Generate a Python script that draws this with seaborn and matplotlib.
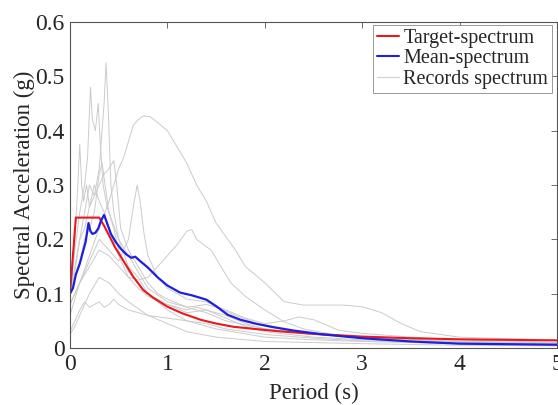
import matplotlib
matplotlib.use("Agg")
import matplotlib.pyplot as plt
from matplotlib.lines import Line2D
import numpy as np
import pandas as pd
import seaborn as sns

# target spectrum
target_T = [0, 0.06, 0.30, 0.35, 0.41, 0.46, 0.55, 0.65, 0.75, 0.85, 1.0, 1.15, 1.34, 1.5,
            1.68, 1.9, 2.13, 2.5, 3.0, 3.5, 4.0, 4.5, 5.0]
target_Sa = [0.10, 0.24, 0.24, 0.225, 0.204, 0.186, 0.16, 0.131, 0.107, 0.093, 0.076, 0.064,
             0.052, 0.045, 0.039, 0.035, 0.031, 0.026, 0.021, 0.018, 0.016, 0.015, 0.014]

# mean spectrum
mean_T = [0, 0.03, 0.06, 0.1, 0.13, 0.16, 0.19, 0.21, 0.23, 0.26, 0.29, 0.32, 0.35, 0.38, 0.42,
          0.47, 0.52, 0.58, 0.63, 0.67, 0.72, 0.8, 0.9, 1.0, 1.13, 1.25, 1.4, 1.5, 1.62, 1.75,
          1.9, 2.1, 2.3, 2.6, 3.0, 3.5, 4.0, 4.5, 5.0]
mean_Sa = [0.10, 0.11, 0.135, 0.155, 0.175, 0.195, 0.23, 0.215, 0.21, 0.212, 0.22, 0.235, 0.245,
           0.23, 0.21, 0.195, 0.183, 0.172, 0.166, 0.168, 0.16, 0.148, 0.13, 0.115, 0.102, 0.097,
           0.089, 0.077, 0.061, 0.052, 0.045, 0.038, 0.032, 0.025, 0.018, 0.012, 0.008, 0.007,
           0.006]

# individual records
rec_T = [
    [0, 0.1, 0.2, 0.3, 0.4, 0.45, 0.5, 0.55, 0.6, 0.65, 0.7, 0.75, 0.82, 0.9, 1.0, 1.1, 1.2, 1.3,
     1.4, 1.5, 1.6, 1.7, 1.8, 2.0, 2.2, 2.4, 2.6, 2.8, 3.0, 3.2, 3.4, 3.6, 4.0, 4.5, 5.0],
    [0, 0.1, 0.2, 0.3, 0.4, 0.5, 0.6, 0.7, 0.8, 0.9, 1.0, 1.1, 1.2, 1.25, 1.3, 1.35, 1.45, 1.55,
     1.65, 1.8, 2.0, 2.2, 2.4, 2.7, 3.0, 3.5, 4.0, 5.0],
    [0, 0.05, 0.1, 0.15, 0.2, 0.25, 0.3, 0.35, 0.37, 0.39, 0.42, 0.45, 0.5, 0.6, 0.7, 0.8, 1.0,
     1.2, 1.5, 2.0, 2.5, 3.0, 4.0, 5.0],
    [0, 0.05, 0.1, 0.15, 0.18, 0.21, 0.23, 0.26, 0.29, 0.31, 0.34, 0.38, 0.45, 0.5, 0.6, 0.7, 0.8,
     1.0, 1.2, 1.4, 1.6, 1.8, 2.0, 2.5, 3.0, 4.0, 5.0],
    [0, 0.05, 0.08, 0.1, 0.12, 0.14, 0.17, 0.2, 0.25, 0.3, 0.35, 0.4, 0.45, 0.48, 0.52, 0.6, 0.7,
     0.8, 0.9, 1.0, 1.2, 1.4, 1.6, 2.0, 2.5, 3.0, 4.0, 5.0],
    [0, 0.1, 0.2, 0.3, 0.4, 0.5, 0.6, 0.65, 0.69, 0.72, 0.76, 0.8, 0.9, 1.0, 1.2, 1.4, 1.6, 1.8,
     2.0, 2.2, 2.35, 2.5, 2.6, 2.75, 3.0, 3.5, 4.0, 5.0],
    [0, 0.05, 0.1, 0.15, 0.2, 0.25, 0.3, 0.35, 0.4, 0.45, 0.5, 0.6, 0.7, 0.8, 1.0, 1.2, 1.4, 1.6,
     2.0, 2.5, 3.0, 4.0, 5.0],
    [0, 0.05, 0.1, 0.2, 0.3, 0.4, 0.5, 0.6, 0.8, 1.0, 1.2, 1.5, 2.0, 3.0, 4.0, 5.0],
    [0, 0.05, 0.1, 0.15, 0.2, 0.25, 0.3, 0.35, 0.4, 0.5, 0.6, 0.7, 0.8, 1.0, 1.2, 1.3, 1.4, 1.6,
     1.8, 2.0, 2.5, 3.0, 4.0, 5.0],
    [0, 0.05, 0.1, 0.15, 0.2, 0.25, 0.3, 0.33, 0.36, 0.4, 0.5, 0.6, 0.7, 0.8, 1.0, 1.2, 1.4, 1.5,
     1.7, 2.0, 2.3, 2.6, 3.0, 4.0, 5.0],
]
rec_Sa = [
    [0.06, 0.12, 0.17, 0.22, 0.27, 0.30, 0.33, 0.35, 0.38, 0.41, 0.42, 0.427, 0.426, 0.415, 0.40,
     0.37, 0.34, 0.30, 0.27, 0.23, 0.205, 0.18, 0.15, 0.12, 0.085, 0.079, 0.079, 0.079, 0.076,
     0.065, 0.045, 0.03, 0.02, 0.017, 0.015],
    [0.08, 0.12, 0.15, 0.18, 0.17, 0.15, 0.13, 0.125, 0.13, 0.15, 0.17, 0.19, 0.215, 0.218, 0.20,
     0.193, 0.18, 0.15, 0.12, 0.095, 0.07, 0.048, 0.035, 0.025, 0.02, 0.013, 0.01, 0.007],
    [0.10, 0.15, 0.20, 0.25, 0.30, 0.28, 0.33, 0.45, 0.525, 0.45, 0.30, 0.25, 0.20, 0.15, 0.13,
     0.10, 0.07, 0.05, 0.035, 0.02, 0.015, 0.012, 0.008, 0.006],
    [0.10, 0.18, 0.25, 0.30, 0.35, 0.48, 0.42, 0.40, 0.45, 0.38, 0.30, 0.26, 0.22, 0.18, 0.14,
     0.12, 0.10, 0.08, 0.065, 0.07, 0.06, 0.045, 0.035, 0.025, 0.018, 0.012, 0.008],
    [0.09, 0.20, 0.30, 0.375, 0.30, 0.27, 0.30, 0.26, 0.28, 0.30, 0.32, 0.33, 0.345, 0.30, 0.22,
     0.18, 0.15, 0.12, 0.10, 0.09, 0.075, 0.065, 0.05, 0.035, 0.025, 0.02, 0.012, 0.01],
    [0.08, 0.12, 0.16, 0.20, 0.18, 0.16, 0.20, 0.26, 0.30, 0.27, 0.21, 0.17, 0.13, 0.11, 0.09,
     0.085, 0.07, 0.055, 0.045, 0.05, 0.057, 0.052, 0.045, 0.033, 0.027, 0.02, 0.015, 0.01],
    [0.03, 0.05, 0.07, 0.085, 0.075, 0.08, 0.085, 0.075, 0.08, 0.09, 0.08, 0.07, 0.065, 0.06,
     0.055, 0.05, 0.045, 0.035, 0.025, 0.018, 0.013, 0.008, 0.006],
    [0.025, 0.04, 0.06, 0.10, 0.13, 0.12, 0.10, 0.085, 0.06, 0.045, 0.03, 0.02, 0.012, 0.008,
     0.005, 0.004],
    [0.10, 0.14, 0.20, 0.22, 0.26, 0.30, 0.27, 0.25, 0.22, 0.17, 0.13, 0.11, 0.095, 0.08, 0.07,
     0.075, 0.07, 0.055, 0.04, 0.03, 0.02, 0.015, 0.01, 0.008],
    [0.10, 0.13, 0.16, 0.20, 0.22, 0.25, 0.32, 0.34, 0.30, 0.25, 0.20, 0.17, 0.14, 0.11, 0.085,
     0.075, 0.08, 0.075, 0.06, 0.04, 0.03, 0.026, 0.02, 0.012, 0.009],
]

rows = []
for i, (tt, ss) in enumerate(zip(rec_T, rec_Sa)):
    for t, s in zip(tt, ss):
        rows.append({"rec": i, "T": t, "Sa": s})
records = pd.DataFrame(rows)

sns.set_style("white")
plt.rcParams["font.family"] = ["Liberation Serif", "DejaVu Serif"]
plt.rcParams["xtick.direction"] = "in"
plt.rcParams["ytick.direction"] = "in"

fig = plt.figure(figsize=(5.58, 4.05), dpi=100)
ax = fig.add_axes([70 / 558, 1 - 348 / 405, 487 / 558, 326 / 405])

sns.lineplot(data=records, x="T", y="Sa", units="rec", estimator=None, color="#cbcbcb",
             lw=0.7, ax=ax, legend=False)
sns.lineplot(x=target_T, y=target_Sa, color="#e8191c", lw=1.5, ax=ax)
sns.lineplot(x=mean_T, y=mean_Sa, color="#1f1fe0", lw=1.6, ax=ax)

ax.set_xlim(0, 5)
ax.set_ylim(0, 0.6)
ax.set_xticks([0, 1, 2, 3, 4, 5])
ax.set_xticklabels(["0", "1", "2", "3", "4", "5"])
ax.set_yticks([0, 0.1, 0.2, 0.3, 0.4, 0.5, 0.6])
ax.set_yticklabels(["0", "0.1", "0.2", "0.3", "0.4", "0.5", "0.6"])
ax.tick_params(axis="both", labelsize=17, length=4, width=0.6, color="#555555",
               top=True, right=True, pad=4)
for sp in ax.spines.values():
    sp.set_color("#555555")
    sp.set_linewidth(0.8)
ax.set_xlabel("Period (s)", fontsize=16.5, labelpad=6)
ax.set_ylabel("Spectral Acceleration (g)", fontsize=16.5, labelpad=0)

handles = [Line2D([], [], color="#e8191c", lw=1.5),
           Line2D([], [], color="#1f1fe0", lw=1.5),
           Line2D([], [], color="#d0d0d0", lw=0.8)]
leg = ax.legend(handles, ["Target-spectrum", "Mean-spectrum", "Records spectrum"],
                loc="upper right", bbox_to_anchor=(0.99, 0.99), borderaxespad=0,
                fontsize=14.5, handlelength=1.1, handletextpad=0.2, labelspacing=0.05,
                borderpad=0.2, fancybox=False, framealpha=1, edgecolor="#888888")
leg.get_frame().set_linewidth(0.6)

fig.savefig("out.png", dpi=100)
